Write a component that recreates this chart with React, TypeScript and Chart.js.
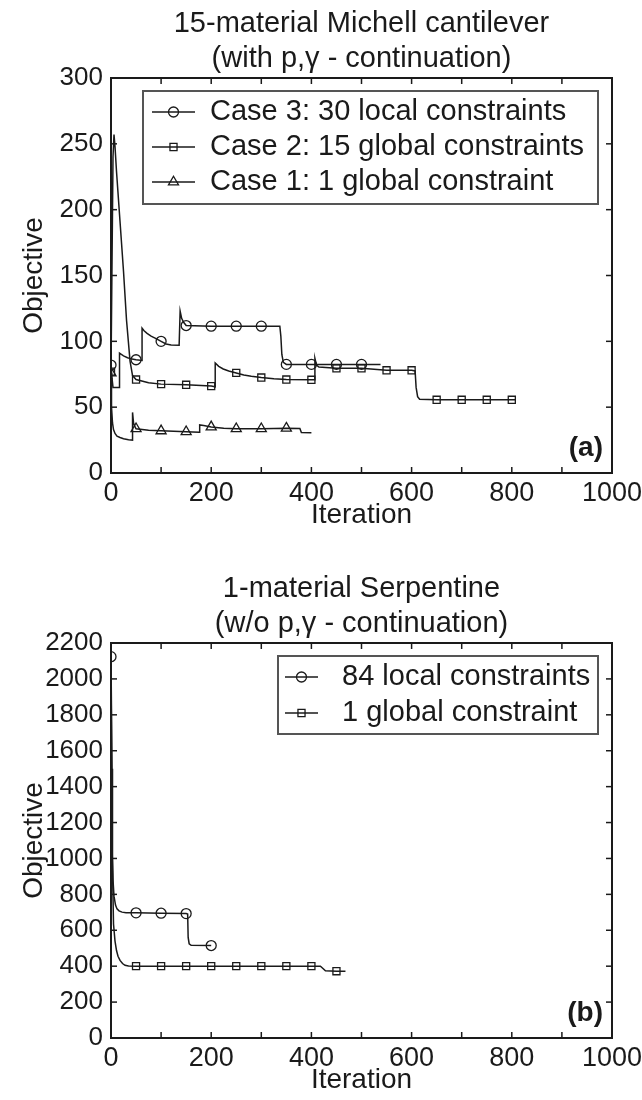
import React, { useEffect, useRef } from "react";
import { Chart, registerables } from "chart.js";

Chart.register(...registerables);

const FONT = "'Liberation Sans', Arial, Helvetica, sans-serif";
const INK = "#1a1a1a";

// ---------- Panel (a): 15-material Michell cantilever ----------
const titleA = ["15-material Michell cantilever", "(with p,γ - continuation)"];
const labelsA = ["Case 3: 30 local constraints", "Case 2: 15 global constraints", "Case 1: 1 global constraint"];

const case3X = [0, 2, 4, 17, 17, 20, 25, 33, 42, 50, 62, 62, 66, 72, 80, 90, 100, 110, 120, 136, 138, 141, 145, 150, 200, 250, 300, 337, 339, 341, 344, 350, 400, 450, 500, 538];
const case3Y = [82, 72, 65, 65, 91, 90.2, 89, 87.5, 86.5, 86, 85.5, 110, 108, 106, 104, 102, 100, 98, 97.3, 97, 123, 117.5, 114.5, 112, 111.5, 111.5, 111.5, 111.5, 104, 90, 84, 82.5, 82.5, 82.5, 82.5, 82.5];
const case3Markers = [0, 50, 100, 150, 200, 250, 300, 350, 400, 450, 500];

const case2X = [0, 4, 6, 8, 11, 18, 25, 31, 38, 43, 50, 75, 100, 150, 200, 208, 208, 215, 224, 235, 250, 265, 280, 300, 325, 350, 400, 407, 407, 410, 415, 450, 500, 550, 600, 607, 609, 612, 616, 650, 700, 750, 800, 808];
const case2Y = [77, 240, 257, 248, 229, 191, 153, 116, 85, 74, 71, 68.5, 67.5, 67, 66, 65.5, 83.5, 81, 79, 77.5, 76, 74.5, 73.5, 72.5, 71.5, 71, 70.8, 70.8, 87, 82, 80.5, 79.5, 79.5, 78, 78, 77.5, 65, 58, 56, 55.6, 55.6, 55.6, 55.6, 55.6];
const case2Markers = [0, 50, 100, 150, 200, 250, 300, 350, 400, 450, 500, 550, 600, 650, 700, 750, 800];

const case1X = [0, 1, 3, 5, 8, 12, 18, 25, 35, 43, 43, 45, 48, 50, 75, 100, 150, 176, 177, 185, 200, 225, 250, 300, 350, 377, 380, 400];
const case1Y = [76, 50, 38, 33, 30, 28, 27, 26, 25.3, 25, 46, 38, 35, 33.6, 32.5, 32, 31.3, 31, 36.5, 36, 35, 34, 33.6, 33.6, 34, 33.8, 30.8, 30.5];
const case1Markers = [0, 50, 100, 150, 200, 250, 300, 350];

const yTicksA = { min: 0, max: 300, step: 50 };

// ---------- Panel (b): 1-material Serpentine ----------
const titleB = ["1-material Serpentine", "(w/o p,γ - continuation)"];
const labelsB = ["84 local constraints", "1 global constraint"];

const localX = [0, 2, 3, 4, 6, 9, 12, 16, 22, 30, 50, 100, 150, 153, 154, 156, 160, 200];
const localY = [2124, 1500, 1006, 880, 790, 740, 719, 708, 701, 698, 697, 695, 693, 690, 560, 525, 516, 515];
const localMarkers = [0, 50, 100, 150, 200];

const globalX = [0, 2, 5, 8, 11, 14, 18, 23, 28, 35, 50, 100, 150, 200, 250, 300, 350, 400, 418, 422, 428, 450, 468];
const globalY = [2124, 1100, 635, 540, 487, 455, 432, 415, 405, 401, 400, 400, 400, 400, 400, 400, 400, 400, 400, 390, 374, 372, 372];
const globalMarkers = [50, 100, 150, 200, 250, 300, 350, 400, 450];

const yTicksB = { min: 0, max: 2200, step: 200 };

const xTicks = { min: 0, max: 1000, step: 100, labelStep: 200 };

function pts(xs: number[], ys: number[]) {
  return xs.map((x, i) => ({ x, y: ys[i] }));
}

function radiusFor(markers: number[], r: number) {
  return (ctx: any) => (ctx.raw && markers.includes(ctx.raw.x) ? r : 0);
}

function makeDataset(label: string, xs: number[], ys: number[], markers: number[], style: string, r: number) {
  return {
    label,
    data: pts(xs, ys),
    showLine: true,
    borderColor: INK,
    borderWidth: 1.5,
    pointStyle: style,
    pointRadius: radiusFor(markers, r),
    pointHoverRadius: 0,
    pointBorderColor: INK,
    pointBorderWidth: 1.3,
    pointBackgroundColor: "rgba(0,0,0,0)",
    tension: 0,
  };
}

function drawMarker(ctx: CanvasRenderingContext2D, style: string, x: number, y: number, r: number) {
  ctx.beginPath();
  if (style === "circle") {
    ctx.arc(x, y, r, 0, Math.PI * 2);
  } else if (style === "rect") {
    const s = Math.SQRT1_2 * r;
    ctx.rect(x - s, y - s, 2 * s, 2 * s);
  } else {
    let rad = 0;
    ctx.moveTo(x + Math.sin(rad) * r, y - Math.cos(rad) * r);
    rad += (2 * Math.PI) / 3;
    ctx.lineTo(x + Math.sin(rad) * r, y - Math.cos(rad) * r);
    rad += (2 * Math.PI) / 3;
    ctx.lineTo(x + Math.sin(rad) * r, y - Math.cos(rad) * r);
    ctx.closePath();
  }
  ctx.stroke();
}

const framePlugin = {
  id: "frame",
  afterDraw(chart: any, _args: any, opts: any) {
    const { ctx, chartArea: a, scales } = chart;
    ctx.save();
    ctx.strokeStyle = INK;
    ctx.lineWidth = 1.5;
    const tl = 6;
    const line = (x1: number, y1: number, x2: number, y2: number) => {
      ctx.beginPath();
      ctx.moveTo(x1, y1);
      ctx.lineTo(x2, y2);
      ctx.stroke();
    };
    scales.x.ticks.forEach((t: any) => {
      const px = scales.x.getPixelForValue(t.value);
      if (px <= a.left + 1 || px >= a.right - 1) return;
      line(px, a.bottom, px, a.bottom - tl);
      line(px, a.top, px, a.top + tl);
    });
    scales.y.ticks.forEach((t: any) => {
      const py = scales.y.getPixelForValue(t.value);
      if (py <= a.top + 1 || py >= a.bottom - 1) return;
      line(a.left, py, a.left + tl, py);
      line(a.right, py, a.right - tl, py);
    });
    ctx.lineWidth = 2;
    ctx.strokeRect(a.left, a.top, a.right - a.left, a.bottom - a.top);

    ctx.fillStyle = INK;
    ctx.font = `bold 28px ${FONT}`;
    ctx.textAlign = "right";
    ctx.textBaseline = "middle";
    ctx.fillText(opts.panel, a.right - 9, a.bottom - 25);

    const L = opts.legend;
    const bx0 = a.left + L.boxLeft;
    const bx1 = a.right - L.boxRight;
    const by0 = a.top + L.boxTop;
    const by1 = a.top + L.boxBottom;
    ctx.fillStyle = "#ffffff";
    ctx.fillRect(bx0, by0, bx1 - bx0, by1 - by0);
    ctx.strokeStyle = "#555555";
    ctx.lineWidth = 2;
    ctx.strokeRect(bx0, by0, bx1 - bx0, by1 - by0);
    chart.data.datasets.forEach((ds: any, i: number) => {
      const y = a.top + L.rowTop + i * L.rowStep;
      ctx.strokeStyle = INK;
      ctx.lineWidth = 1.5;
      line(a.left + L.lineX0, y, a.left + L.lineX1, y);
      ctx.lineWidth = 1.3;
      const mx = a.left + (L.lineX0 + L.lineX1) / 2;
      drawMarker(ctx, ds.pointStyle, mx, y, opts.radii[i]);
      ctx.fillStyle = INK;
      ctx.font = `29px ${FONT}`;
      ctx.textAlign = "left";
      ctx.textBaseline = "middle";
      ctx.fillText(ds.label, a.left + L.textX, y);
    });
    ctx.restore();
  },
};

function makeConfig(title: string[], datasets: any[], yt: { min: number; max: number; step: number }, panel: string, legend: any, radii: number[]) {
  return {
    type: "scatter",
    data: { datasets },
    plugins: [framePlugin],
    options: {
      animation: false,
      responsive: false,
      devicePixelRatio: 1,
      events: [],
      layout: { padding: { left: 0, right: 30, top: 0, bottom: 0 } },
      plugins: {
        legend: { display: false },
        tooltip: { enabled: false },
        title: {
          display: true,
          fullSize: false,
          text: title,
          color: INK,
          font: { family: FONT, size: 29, weight: "normal", lineHeight: 1.2 },
          padding: { top: 7, bottom: 1.4 },
        },
        frame: { panel, legend, radii },
      },
      scales: {
        x: {
          type: "linear",
          min: xTicks.min,
          max: xTicks.max,
          grid: { display: false, drawTicks: false },
          border: { display: false },
          ticks: {
            stepSize: xTicks.step,
            autoSkip: false,
            maxRotation: 0,
            padding: 4,
            color: INK,
            font: { family: FONT, size: 27 },
            callback: (v: number) => (v % xTicks.labelStep === 0 ? String(v) : ""),
          },
          title: {
            display: true,
            text: "Iteration",
            color: INK,
            font: { family: FONT, size: 28 },
            padding: { top: 0, bottom: 3 },
          },
          afterFit: (s: any) => {
            s.height = 62;
            s.paddingLeft = 0;
            s.paddingRight = 0;
          },
        },
        y: {
          type: "linear",
          min: yt.min,
          max: yt.max,
          grid: { display: false, drawTicks: false },
          border: { display: false },
          ticks: {
            stepSize: yt.step,
            autoSkip: false,
            padding: 8,
            color: INK,
            font: { family: FONT, size: 26 },
            callback: (v: number) => String(v),
          },
          title: {
            display: true,
            text: "Objective",
            color: INK,
            font: { family: FONT, size: 28 },
            padding: { top: 17, bottom: 0 },
          },
          afterFit: (s: any) => {
            s.width = 111;
          },
        },
      },
    },
  };
}

export default function App() {
  const refA = useRef<HTMLCanvasElement>(null);
  const refB = useRef<HTMLCanvasElement>(null);

  useEffect(() => {
    const radiiA = [5, 5, 5.8];
    const dsA = [
      makeDataset(labelsA[0], case3X, case3Y, case3Markers, "circle", radiiA[0]),
      makeDataset(labelsA[1], case2X, case2Y, case2Markers, "rect", radiiA[1]),
      makeDataset(labelsA[2], case1X, case1Y, case1Markers, "triangle", radiiA[2]),
    ];
    const legendA = { boxLeft: 32, boxRight: 14, boxTop: 13, boxBottom: 126, rowTop: 34, rowStep: 35, lineX0: 41, lineX1: 84, textX: 99 };
    const radiiB = [5, 5];
    const dsB = [
      makeDataset(labelsB[0], localX, localY, localMarkers, "circle", radiiB[0]),
      makeDataset(labelsB[1], globalX, globalY, globalMarkers, "rect", radiiB[1]),
    ];
    const legendB = { boxLeft: 167, boxRight: 14, boxTop: 13, boxBottom: 91, rowTop: 34, rowStep: 36, lineX0: 174, lineX1: 207, textX: 231 };

    const cA = new Chart(refA.current as HTMLCanvasElement, makeConfig(titleA, dsA, yTicksA, "(a)", legendA, radiiA) as any);
    const cB = new Chart(refB.current as HTMLCanvasElement, makeConfig(titleB, dsB, yTicksB, "(b)", legendB, radiiB) as any);
    return () => {
      cA.destroy();
      cB.destroy();
    };
  }, []);

  return (
    <div style={{ position: "absolute", left: 0, top: 0, width: 642, height: 1100, background: "#ffffff" }}>
      <canvas ref={refA} width={642} height={535} style={{ position: "absolute", left: 0, top: 0, width: 642, height: 535 }} />
      <canvas ref={refB} width={642} height={535} style={{ position: "absolute", left: 0, top: 565, width: 642, height: 535 }} />
    </div>
  );
}
